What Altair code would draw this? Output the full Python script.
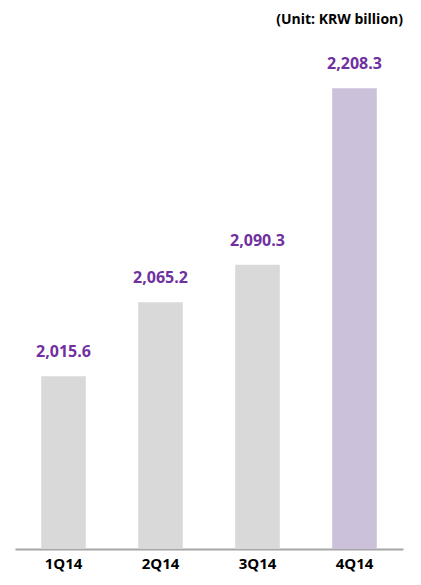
import altair as alt
import pandas as pd

quarters = ["1Q14", "2Q14", "3Q14", "4Q14"]
values = [2015.6, 2065.2, 2090.3, 2208.3]
labels = ["2,015.6", "2,065.2", "2,090.3", "2,208.3"]
colors = ["#D9D9D9", "#D9D9D9", "#D9D9D9", "#CCC1DA"]
base_value = 1900
top_value = 2246

df = pd.DataFrame({"q": quarters, "v": values, "lbl": labels, "c": colors})

FONT = "Open Sans"

x = alt.X("q:N", sort=quarters, title=None,
          scale=alt.Scale(paddingInner=0.54, paddingOuter=0.27),
          axis=alt.Axis(labelAngle=0, labelFont=FONT, labelFontSize=15, labelFontWeight="bold",
                        labelColor="#000000", ticks=False, domainColor="#A6A6A6", domainWidth=2,
                        labelPadding=7))
y = alt.Y("v:Q", scale=alt.Scale(domain=[base_value, top_value], zero=False, nice=False), axis=None)

bars = alt.Chart(df).mark_bar().encode(x=x, y=y, y2=alt.datum(base_value),
                                       color=alt.Color("c:N", scale=None))
text = alt.Chart(df).mark_text(font=FONT, fontSize=16, fontWeight="bold", color="#7030A0",
                               baseline="middle", dy=-24).encode(x=x, y=y, text="lbl:N")

chart = (bars + text).properties(
    width=388, height=517,
    padding={"left": 7, "top": 24, "right": 10, "bottom": 28},
    autosize=alt.AutoSizeParams(type="none"),
    title=alt.TitleParams("(Unit: KRW billion)", anchor="end", font=FONT, fontSize=14,
                          fontWeight="bold", color="#000000", offset=5),
).configure_view(stroke=None)

chart.save("out.html", embed_options={"renderer": "svg", "actions": False})
